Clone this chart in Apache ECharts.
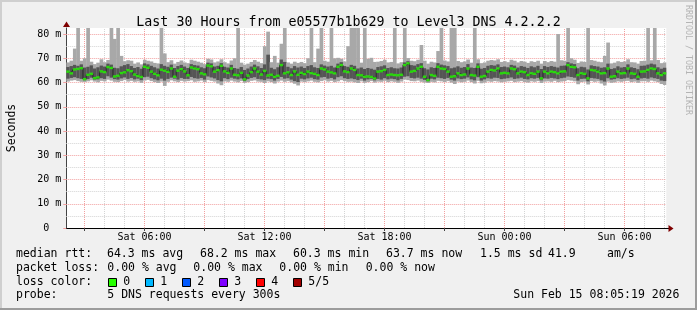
<!DOCTYPE html>
<html><head><meta charset="utf-8">
<script src="https://cdn.jsdelivr.net/npm/echarts@6/dist/echarts.min.js"></script>
<style>html,body{margin:0;padding:0;background:#f0f0f0}#c{width:697px;height:310px}</style>
</head><body><div id="c"></div><script>
// ---- time axis (hours since Sat 00:00) ----
const startHour = 2 + 5/60 + 19/3600;   // Sat 02:05:19
const stepHours = 10/60;                 // one smoke column = 10 min
const timeTickHours = [6, 12, 18, 24, 30];
const timeTickLabels = ['Sat 06:00', 'Sat 12:00', 'Sat 18:00', 'Sun 00:00', 'Sun 06:00'];
const yTickValues = [0, 10, 20, 30, 40, 50, 60, 70, 80];

// ---- median rtt (ms) ----
const median = [
64.5,63.8,65.4,65.6,65.9,61.4,63.2,63.6,61.8,62.1,64.6,64.3,66.4,66.0,62.5,62.8,63.9,64.2,65.1,64.7,63.3,62.7,62.3,66.5,66.1,64.5,63.6,63.0,65.3,64.9,64.4,65.8,62.4,64.9,65.5,64.6,
63.0,66.2,65.8,65.5,63.8,63.4,67.0,66.7,64.5,65.1,66.9,64.6,64.0,65.8,63.2,63.0,64.0,61.3,62.9,64.3,65.8,64.5,63.3,64.8,62.9,63.2,62.4,62.8,67.2,63.8,64.2,63.1,64.6,63.2,64.0,63.5,
64.5,63.9,63.6,63.1,65.8,65.4,64.5,64.2,63.8,66.5,67.2,64.6,64.3,65.8,65.2,63.1,63.0,62.4,62.5,62.3,61.7,64.5,64.7,65.2,63.1,63.3,63.1,63.0,63.2,67.2,67.9,64.5,64.8,65.8,66.5,62.4,
61.0,63.1,62.8,66.5,65.8,65.6,64.5,62.4,62.6,63.8,63.1,63.3,65.8,63.1,62.9,66.5,62.4,62.7,64.5,65.2,65.0,65.8,63.8,64.0,63.8,65.8,65.5,63.8,64.5,64.3,63.1,63.8,63.6,64.5,61.7,64.5,
63.8,64.5,64.3,63.8,64.5,64.6,67.2,66.5,66.3,63.1,63.8,63.6,61.7,65.2,65.0,64.5,63.8,63.9,65.8,62.4,62.6,64.5,63.8,63.9,65.8,63.8,63.6,62.4,64.5,64.6,65.2,65.8,65.6,63.8,63.1,63.8];
// ---- lowest ping ----
const pingMin = [
60.4,60.8,61.0,60.6,60.3,60.2,60.5,60.9,60.4,60.1,60.7,60.5,61.2,60.8,60.3,60.2,60.6,61.0,60.4,60.7,60.3,60.5,59.9,60.8,61.1,60.6,60.2,59.8,60.4,58.6,60.3,60.9,60.5,60.2,60.7,60.4,
60.6,60.9,60.3,60.5,60.8,60.2,61.0,60.7,60.4,59.6,58.9,60.5,60.3,60.8,60.4,60.1,60.6,59.9,60.2,60.7,60.9,60.4,60.3,59.8,60.5,60.2,59.6,60.4,60.8,60.3,60.6,60.1,59.5,58.8,60.4,60.2,
60.5,60.8,60.3,60.1,60.6,60.9,60.4,60.7,60.2,60.5,61.0,60.6,60.3,60.4,60.1,59.8,60.5,59.9,60.2,60.6,60.0,60.4,60.3,60.7,60.2,60.5,60.3,59.9,60.4,61.2,61.0,60.6,60.5,60.8,60.3,60.0,
59.8,60.3,60.1,60.7,60.5,60.2,60.6,60.0,59.4,60.4,60.1,60.3,60.8,60.2,59.6,60.7,59.7,60.0,60.5,60.3,60.6,60.4,60.1,60.3,60.5,60.7,60.2,60.4,60.6,60.2,60.0,60.5,60.3,60.6,59.8,60.4,
60.5,60.3,60.7,60.2,60.4,60.6,61.0,60.8,60.5,59.3,60.2,60.4,59.2,60.6,60.3,60.5,59.6,58.8,60.4,59.9,60.1,60.5,60.3,60.6,60.7,60.2,60.4,59.9,60.5,60.6,60.3,60.8,60.5,60.2,59.4,59.0];
// ---- second-lowest ping ----
const pingLow = [
61.6,61.9,62.2,61.8,61.5,60.9,61.4,62.0,61.2,61.3,61.8,61.5,62.6,62.0,61.4,61.2,61.7,62.1,61.5,61.9,61.3,61.6,61.0,62.2,62.4,61.8,61.3,60.9,61.6,60.8,61.5,62.0,61.6,61.2,61.9,61.5,
61.5,62.3,61.8,61.6,61.9,61.2,62.5,62.1,61.7,61.0,60.5,61.8,61.4,62.0,61.6,61.3,61.7,60.6,61.4,61.9,62.2,61.5,61.3,61.0,61.6,61.4,60.8,61.5,62.3,61.6,61.8,61.2,60.6,60.2,61.6,61.3,
61.7,62.0,61.4,61.2,62.1,62.3,61.6,61.9,61.3,62.2,62.6,61.8,61.5,61.7,61.4,61.0,61.6,60.8,61.3,61.5,60.9,61.5,61.2,61.8,61.3,61.6,61.4,60.9,61.5,62.4,62.6,61.9,61.7,62.0,61.6,61.1,
60.5,61.6,61.3,62.0,61.8,61.5,61.9,61.2,60.8,61.7,61.4,61.6,62.1,61.3,60.9,62.2,60.8,61.3,61.8,61.6,62.0,61.9,61.4,61.6,61.8,62.1,61.5,61.7,62.0,61.5,61.3,61.8,61.6,61.9,60.9,61.7,
61.6,61.9,61.7,61.4,61.8,62.0,62.5,62.3,62.0,60.8,61.5,61.6,60.5,61.9,61.7,61.5,60.9,60.4,61.8,61.2,61.4,61.8,61.5,61.7,62.0,61.4,61.6,61.0,61.7,61.9,61.6,62.1,61.8,61.5,60.8,60.6];
// ---- second-highest ping ----
const pingHigh = [
66.4,66.8,67.3,66.9,67.5,66.2,66.5,67.1,65.8,66.3,67.0,66.6,67.8,67.4,66.1,65.9,66.7,67.2,67.6,66.8,66.0,66.4,65.7,67.9,67.5,66.9,66.3,65.8,67.6,66.9,66.5,67.4,66.0,66.8,67.3,66.6,
66.0,67.6,67.2,67.0,66.3,65.9,68.2,67.9,66.6,66.9,68.0,66.5,66.2,67.3,66.0,65.7,66.4,65.2,65.8,66.6,67.4,66.7,66.0,67.5,71.5,66.1,65.5,66.3,69.5,68.5,66.5,65.9,66.8,66.2,66.6,66.0,
66.8,67.2,66.3,66.0,67.5,67.0,66.6,66.9,66.2,67.8,68.4,66.8,66.5,67.3,66.9,65.8,66.2,65.6,66.0,65.7,65.3,66.4,66.7,67.1,66.0,66.3,65.9,65.8,66.2,68.3,68.8,67.2,67.0,67.6,68.0,65.9,
65.4,66.3,66.0,68.0,67.4,67.1,66.8,65.9,66.2,66.7,66.1,66.4,67.6,66.2,66.0,67.9,65.7,66.0,66.9,67.2,67.0,67.5,66.4,66.6,66.3,67.3,67.0,66.2,66.8,66.5,66.0,66.7,66.3,66.9,65.6,66.8,
66.4,66.8,66.5,66.2,66.9,67.0,68.4,67.9,67.6,65.9,66.5,66.3,65.4,67.1,66.8,66.6,66.1,66.3,67.8,65.6,65.9,66.7,66.2,66.4,67.5,66.3,66.0,65.5,66.9,67.0,67.4,67.8,67.5,66.3,65.7,66.1];
// ---- highest ping (values above the axis top are clipped spikes) ----
const pingMax = [
68.3,69.0,74.0,90,69.0,70.0,90,68.6,67.6,68.2,69.6,68.4,69.3,90,78,90,71.0,68.8,69.2,69.0,67.8,68.3,67.5,69.4,69.0,68.7,68.1,67.9,90,72.0,68.4,69.2,67.8,68.5,69.1,68.3,
68.0,69.4,69.0,68.6,68.2,67.6,69.8,69.5,68.3,68.7,69.6,68.4,67.9,69.1,70.0,90,68.2,67.4,67.8,68.5,69.3,68.6,68.0,75.0,81.0,68.4,71.0,68.2,76.0,90,68.3,67.8,68.6,68.1,68.5,68.0,
70.0,90,68.4,74.0,90,69.0,68.6,90,70.0,70.2,69.8,68.7,75.0,90,90,90,68.2,90,69.8,70.2,68.5,68.6,68.9,69.4,68.3,68.5,90,67.9,68.4,90,70.1,69.0,68.8,69.4,75.5,69.0,
67.8,68.6,68.3,73.0,90,69.1,68.7,90,90,68.9,68.4,68.7,69.5,68.2,90,69.6,68.0,68.3,69.0,69.3,69.1,69.6,68.5,68.8,68.4,69.4,69.0,68.3,68.9,68.6,68.1,68.8,68.5,69.0,67.8,68.9,
68.4,68.9,68.6,80.0,69.2,69.0,90,70.0,69.4,68.1,68.7,68.5,90,69.3,69.0,68.6,68.4,71.0,76.5,67.9,68.2,68.8,68.5,68.7,69.6,68.4,68.3,67.8,68.9,69.0,90,69.2,90,69.3,68.0,68.3];

// ---- legend texts ----
const lossColors = ['#26ff00', '#00b8ff', '#0059ff', '#7e00ff', '#ff0000', '#a10000'];
const lossLabels = ['0', '1', '2', '3', '4', '5/5'];
const rttStats = ['64.3 ms avg', '68.2 ms max', '60.3 ms min', '63.7 ms now', '1.5 ms sd', '41.9', 'am/s'];
const lossStats = ['0.00 % avg', '0.00 % max', '0.00 % min', '0.00 % now'];
const probeText = '5 DNS requests every 300s';
const stampText = 'Sun Feb 15 08:05:19 2026';
const titleText = 'Last 30 Hours from e05577b1b629 to Level3 DNS 4.2.2.2';

// ---------------------------------------------------------------
const MONO = '"DejaVu Sans Mono", monospace';
const N = median.length;
const xMin = startHour, xMax = startHour + N * stepHours;
const smokeRows = median.map((_, i) => [startHour + i * stepHours, startHour + (i + 1) * stepHours, pingMin[i], pingLow[i], pingHigh[i], pingMax[i]]);
const medianRows = median.map((v, i) => [startHour + (i + 0.5) * stepHours, v]);

const LIGHT = '#a8a8a8', DARK = '#555555';
const RED_GRID = '#f2a0a0', GRAY_GRID = '#d4d4d4';

const gridLines = [];
for (let h = Math.ceil(xMin); h <= Math.floor(xMax); h++) {
  gridLines.push({ xAxis: h, lineStyle: { color: h % 3 === 0 ? RED_GRID : GRAY_GRID, type: [1, 1], width: 1 } });
}
for (let v = 5; v <= 80; v += 5) {
  gridLines.push({ yAxis: v, lineStyle: { color: v % 10 === 0 ? RED_GRID : GRAY_GRID, type: [1, 1], width: 1 } });
}

function renderSmoke(params, api) {
  const cs = params.coordSys;
  const clipBox = { x: cs.x, y: cs.y, width: cs.width, height: cs.height };
  const x0 = api.value(0), x1 = api.value(1);
  function band(lo, hi, color) {
    const a = api.coord([x0, hi]), b = api.coord([x1, lo]);
    const r = echarts.graphic.clipRectByRect({ x: a[0], y: a[1], width: b[0] - a[0] + 0.35, height: b[1] - a[1] }, clipBox);
    return r ? { type: 'rect', shape: r, style: { fill: color } } : null;
  }
  const kids = [band(api.value(2), api.value(5), LIGHT), band(api.value(3), api.value(4), DARK)].filter(Boolean);
  return { type: 'group', children: kids };
}

const fs = 11.5;
const rowY = [254.3, 268, 281.7, 295.4];
const g = [];
function txt(s, x, y) { g.push({ type: 'text', x, y, style: { text: s, fontSize: fs, fontFamily: MONO, fill: '#000', verticalAlign: 'middle', align: 'left' } }); }
txt('median rtt:', 16, rowY[0]);
[107, 200, 293, 386, 480, 548, 607].forEach((x, i) => txt(rttStats[i], x, rowY[0]));
txt('packet loss:', 16, rowY[1]);
[107.3, 193.3, 279.3, 365.7].forEach((x, i) => txt(lossStats[i], x, rowY[1]));
txt('loss color:', 16, rowY[2]);
lossColors.forEach((c, i) => {
  g.push({ type: 'rect', shape: { x: 108.5 + 37 * i, y: 278.5, width: 8, height: 8 }, style: { fill: c, stroke: '#000', lineWidth: 1 } });
  txt(lossLabels[i], 123.3 + 37 * i, rowY[2]);
});
txt('probe:', 16, rowY[3]);
txt(probeText, 107.3, rowY[3]);
txt(stampText, 513.3, rowY[3]);
g.push({ type: 'text', x: 688, y: 5, rotation: -Math.PI / 2, style: { text: 'RRDTOOL / TOBI OETIKER', fontSize: 8.3, fontFamily: MONO, fill: '#b4b4b4', verticalAlign: 'middle', align: 'left' } });
g.push({ type: 'rect', shape: { x: 0, y: 0, width: 697, height: 2 }, style: { fill: '#cfcfcf' } });
g.push({ type: 'rect', shape: { x: 0, y: 0, width: 2, height: 310 }, style: { fill: '#cfcfcf' } });
g.push({ type: 'rect', shape: { x: 0, y: 308, width: 697, height: 2 }, style: { fill: '#9c9c9c' } });
g.push({ type: 'rect', shape: { x: 695, y: 0, width: 2, height: 310 }, style: { fill: '#9c9c9c' } });
g.push({ type: 'line', shape: { x1: 666, y1: 228.5, x2: 669, y2: 228.5 }, style: { stroke: '#000', lineWidth: 1 }, z: 10 });
g.push({ type: 'polygon', shape: { points: [[668.5, 225], [673.5, 228.5], [668.5, 232]] }, style: { fill: '#7f0000' }, z: 10 });
g.push({ type: 'polygon', shape: { points: [[63, 27], [66.5, 21.5], [70, 27]] }, style: { fill: '#7f0000' }, z: 10 });

const chart = echarts.init(document.getElementById('c'), null, { renderer: 'canvas', width: 697, height: 310 });
chart.setOption({
  backgroundColor: '#f0f0f0',
  animation: false,
  title: { text: titleText, left: 'center', top: 11, textStyle: { fontFamily: MONO, fontSize: 13.3, fontWeight: 'normal', color: '#000' } },
  grid: { left: 66.27, width: 600, top: 28, height: 200, show: true, backgroundColor: '#ffffff', borderWidth: 0,
    containLabel: false, outerBoundsMode: 'none' },
  xAxis: { type: 'value', min: xMin, max: xMax,
    axisLine: { show: true, onZero: false, lineStyle: { color: '#000', width: 1 } },
    axisTick: { show: true, customValues: [3, 6, 9, 12, 15, 18, 21, 24, 27, 30], length: 3, inside: false, lineStyle: { color: '#444' } },
    axisLabel: { customValues: timeTickHours, margin: 4, fontFamily: MONO, fontSize: 10, color: '#000',
      formatter: v => timeTickLabels[timeTickHours.indexOf(Math.round(v))] || '' },
    splitLine: { show: false } },
  yAxis: { type: 'value', min: 0, max: 82.5, name: 'Seconds', nameLocation: 'middle', nameRotate: 90, nameGap: 48,
    nameTextStyle: { fontFamily: MONO, fontSize: fs, color: '#000' },
    axisLine: { show: true, lineStyle: { color: '#444', width: 1 } },
    axisTick: { show: true, customValues: yTickValues, length: 3, lineStyle: { color: RED_GRID } },
    axisLabel: { customValues: yTickValues, margin: 5, fontFamily: MONO, fontSize: 10, color: '#000',
      formatter: v => v === 0 ? '0  ' : v + ' m' },
    splitLine: { show: false } },
  graphic: g,
  series: [
    { name: 'grid', type: 'line', data: [], silent: true, z: 1,
      markLine: { silent: true, z: 1, symbol: ['none', 'none'], label: { show: false }, animation: false, data: gridLines } },
    { name: 'smoke', type: 'custom', renderItem: renderSmoke, data: smokeRows, silent: true, z: 2,
      encode: { x: [0, 1], y: [2, 5] } },
    { name: 'medianTrace', type: 'line', step: 'middle', symbol: 'none', silent: true, z: 3,
      data: medianRows, lineStyle: { color: '#1a1a1a', width: 0.8 } },
    { name: 'median', type: 'scatter', symbol: 'rect', symbolSize: [3.4, 2.4], silent: true, z: 4,
      data: medianRows, itemStyle: { color: lossColors[0] } }
  ]
});
</script></body></html>
